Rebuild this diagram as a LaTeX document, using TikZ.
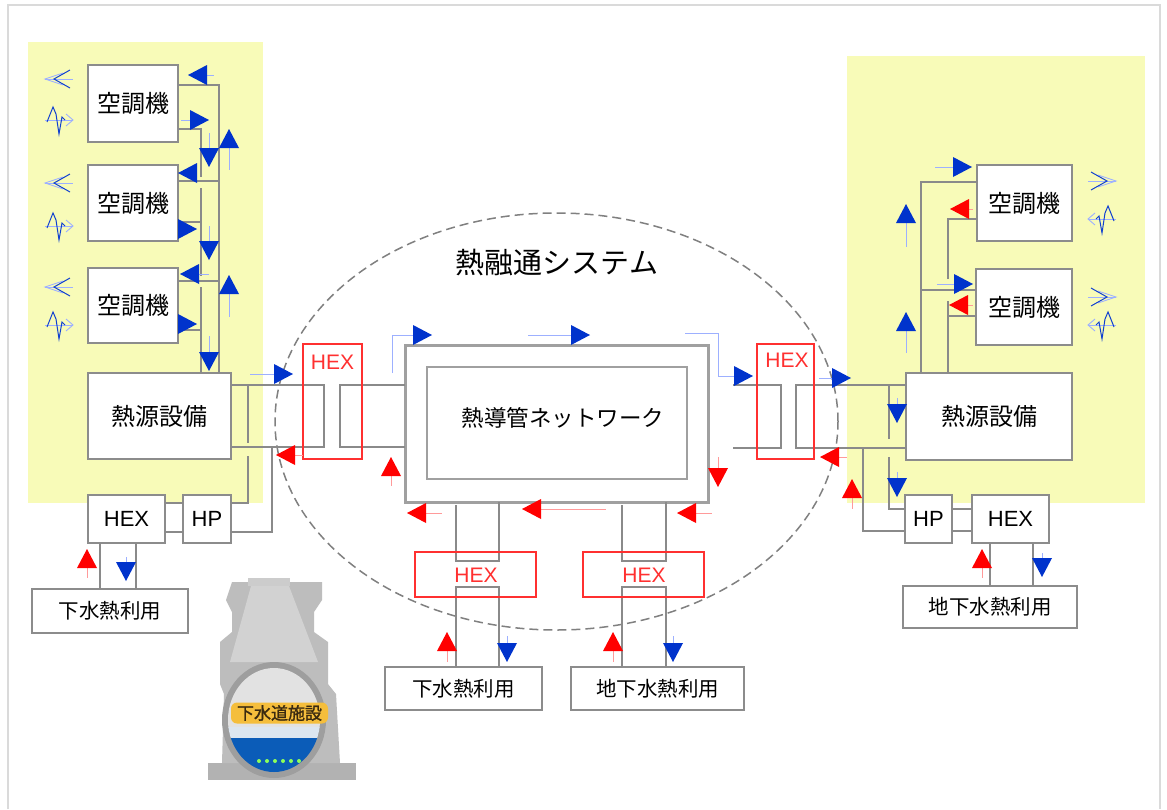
\documentclass[tikz,border=0pt]{standalone}
\usepackage{fontspec}
\setmainfont{Liberation Sans}
\newfontfamily\jp{Noto Sans CJK JP}
\newfontfamily\jpbold[FakeBold=1.6]{Noto Sans CJK JP}
\usetikzlibrary{calc}

\definecolor{zone}{HTML}{F8FBB8}
\definecolor{framegray}{HTML}{DADADA}
\definecolor{boxgray}{HTML}{8C8C8C}
\definecolor{netgray}{HTML}{A0A0A0}
\definecolor{pipegray}{HTML}{8A8A8A}
\definecolor{flowblue}{HTML}{0033CC}
\definecolor{flowred}{HTML}{FF0000}
\definecolor{stemblue}{HTML}{9DB0FF}
\definecolor{stemred}{HTML}{FF9A9A}
\definecolor{hexred}{HTML}{FF3030}
\definecolor{iconblue}{HTML}{1040D0}
\definecolor{mhbase}{HTML}{B2B2B2}
\definecolor{mhbody}{HTML}{BDBDBD}
\definecolor{mhcone}{HTML}{D2D2D2}
\definecolor{mhcap}{HTML}{CCCCCC}
\definecolor{mhring}{HTML}{9E9E9E}
\definecolor{mhinner}{HTML}{E2E2E2}
\definecolor{mhband}{HTML}{DCE6F0}
\definecolor{water}{HTML}{0B5CB8}
\definecolor{tagyellow}{HTML}{F5BE3C}
\definecolor{tagtext}{HTML}{3A2A10}
\definecolor{dotgreen}{HTML}{8CFF5A}

% flow marker: fill colour, stem colour, tip, direction angle, stem length from tip
\newcommand\flowmark[5]{%
  \begin{scope}[shift={#3},rotate=#4]
    \ifdim#5pt>19pt \draw[#2,line width=0.9pt] (-19,0) -- (-#5,0);\fi
    \fill[#1] (0,0) -- (-19,10) -- (-19,-10) -- cycle;
  \end{scope}}

\begin{document}
\begin{tikzpicture}[x=1pt,y=-1pt,
  box/.style={draw=boxgray,line width=1.8pt,fill=white,inner sep=0pt,outer sep=0pt},
  jtext/.style={font=\jp\fontsize{24}{28}\selectfont},
  ltext/.style={font=\fontsize{22}{26}\selectfont},
  usetext/.style={font=\jp\fontsize{20.5}{24}\selectfont},
  hexbox/.style={draw=hexred,line width=1.3pt,inner sep=0pt,outer sep=0pt},
  hexlabel/.style={text=hexred,font=\fontsize{21}{24}\selectfont,inner sep=0pt},
  pipe/.style={draw=pipegray,line width=1.8pt},
  pics/windpic/.style={code={
    \draw[stemblue,line width=0.8pt] (0,0) -- (28,0);
    \draw[stemblue,line width=0.9pt] (18,-6) -- (0,0) -- (18,6);
    \draw[iconblue,line width=1pt] (25,-9) -- (9,0) -- (25,9);
  }},
  pics/gustpic/.style={code={
    \draw[stemblue,line width=0.8pt] (0,0) -- (28,0);
    \draw[stemblue,line width=0.9pt] (21,-6) -- (28,0) -- (21,6);
    \draw[iconblue,line width=1pt] (2,2) -- (8,-13) -- (11,-6) -- (14,14) -- (17,-3) -- (20,0);
  }}
]
\useasboundingbox (0,0) rectangle (1167,809);
\fill[white] (0,0) rectangle (1167,809);
\draw[framegray,line width=1.2pt] (8,809) -- (8,5) -- (1160,5) -- (1160,809);

% building zones
\fill[zone] (28,42) rectangle (263,503);
\fill[zone] (847,56) rectangle (1145,503);

% boundary of the heat interchange system
\draw[gray,line width=1.5pt,dash pattern=on 9pt off 5pt] (556.5,421.5) ellipse [x radius=281.5pt,y radius=208.5pt];
\node[font=\jp\fontsize{29}{33}\selectfont,inner sep=0pt] (title) at (557,262) {熱融通システム};

% ---- left building ----
\node[box,jtext,minimum width=90,minimum height=77] (acL1) at (133,103.5) {空調機};
\node[box,jtext,minimum width=90,minimum height=76] (acL2) at (133,203) {空調機};
\node[box,jtext,minimum width=90,minimum height=75] (acL3) at (133,305.5) {空調機};
\node[box,jtext,minimum width=143,minimum height=86] (hsL) at (159.5,416) {熱源設備};
\node[box,ltext,minimum width=77,minimum height=48] (hexL) at (126.5,519) {HEX};
\node[box,ltext,minimum width=48,minimum height=48] (hpL) at (207,519) {HP};
\node[box,usetext,minimum width=156,minimum height=44] (useL) at (110,611) {下水熱利用};

% ---- network ----
\node[draw=netgray,line width=3pt,fill=white,inner sep=0pt,outer sep=0pt,minimum width=303,minimum height=157] (netO) at (556.5,423.5) {};
\node[draw=netgray,line width=2.6pt,fill=white,inner sep=0pt,outer sep=0pt,minimum width=260,minimum height=112] (netI) at (557,423) {};
\node[font=\jp\fontsize{22.5}{26}\selectfont,inner sep=0pt] (netlabel) at (563,418) {熱導管ネットワーク};
\node[box,usetext,minimum width=157,minimum height=43] (useB1) at (463.5,688.5) {下水熱利用};
\node[box,usetext,minimum width=173,minimum height=43] (useB2) at (657.5,688.5) {地下水熱利用};

% ---- right building ----
\node[box,jtext,minimum width=95,minimum height=76] (acR1) at (1024.5,203) {空調機};
\node[box,jtext,minimum width=96,minimum height=76] (acR2) at (1024,307) {空調機};
\node[box,jtext,minimum width=166,minimum height=87] (hsR) at (989,416.5) {熱源設備};
\node[box,ltext,minimum width=47,minimum height=48] (hpR) at (928.5,519) {HP};
\node[box,ltext,minimum width=77,minimum height=48] (hexR) at (1010.5,519) {HEX};
\node[box,usetext,minimum width=174,minimum height=42] (useR) at (990,607) {地下水熱利用};

% ---- pipes, left ----
\draw[pipe] (acL1.east |- 0,85) -- (219,85) -- (219,0 |- hsL.north);
\draw[pipe] (acL2.east |- 0,181) -- (219,181);
\draw[pipe] (acL3.east |- 0,281) -- (219,281);
\draw[pipe] (acL1.east |- 0,129) -- (201,129) -- (201,177);
\draw[pipe] (201,188) -- (201,276);
\draw[pipe] (acL2.east |- 0,222) -- (201,222);
\draw[pipe] (201,287) -- (201,0 |- hsL.north);
\draw[pipe] (acL3.east |- 0,330) -- (201,330);
\draw[pipe] (hsL.east |- 0,385) -- (324,385) -- (324,447) -- (hsL.east |- 0,447);
\draw[pipe] (248,385) -- (248,443);
\draw[pipe] (248,456) -- (248,503) -- (hpL.east |- 0,503);
\draw[pipe] (hpL.east |- 0,532) -- (272,532) -- (272,447);
\draw[pipe] (hexL.east |- 0,503) -- (hpL.west |- 0,503);
\draw[pipe] (hexL.east |- 0,532) -- (hpL.west |- 0,532);
\draw[pipe] (100,0 |- hexL.south) -- (100,0 |- useL.north);
\draw[pipe] (136,0 |- hexL.south) -- (136,0 |- useL.north);

% ---- pipes, network ----
\draw[pipe] (netO.west |- 0,385) -- (340,385) -- (340,447) -- (netO.west |- 0,447);
\draw[pipe] (456,505) -- (456,561) -- (499,561) -- (499,0 |- netO.south);
\draw[pipe] (456,0 |- useB1.north) -- (456,587) -- (499,587) -- (499,0 |- useB1.north);
\draw[pipe] (622,505) -- (622,561) -- (666,561) -- (666,0 |- netO.south);
\draw[pipe] (622,0 |- useB2.north) -- (622,587) -- (666,587) -- (666,0 |- useB2.north);

% ---- pipes, right ----
\coordinate (openA) at (733,385);
\coordinate (openB) at (733,448);
\draw[pipe] (openA) -- (781,385) -- (781,448) -- (openB);
\draw[pipe] (hsR.west |- 0,385) -- (796,385) -- (796,448) -- (hsR.west |- 0,448);
\draw[pipe] (889,385) -- (889,439);
\draw[pipe] (889,457) -- (889,509) -- (hpR.west |- 0,509);
\draw[pipe] (863,448) -- (863,531) -- (hpR.west |- 0,531);
\draw[pipe] (hpR.east |- 0,509) -- (hexR.west |- 0,509);
\draw[pipe] (hpR.east |- 0,531) -- (hexR.west |- 0,531);
\draw[pipe] (990,0 |- hexR.south) -- (990,0 |- useR.north);
\draw[pipe] (1033,0 |- hexR.south) -- (1033,0 |- useR.north);
\draw[pipe] (921,0 |- hsR.north) -- (921,182) -- (acR1.west |- 0,182);
\draw[pipe] (921,290) -- (acR2.west |- 0,290);
\draw[pipe] (948,0 |- hsR.north) -- (948,301);
\draw[pipe] (948,279) -- (948,219) -- (acR1.west |- 0,219);
\draw[pipe] (948,316) -- (acR2.west |- 0,316);

% ---- heat exchangers on the network ----
\node[hexbox,minimum width=59,minimum height=115] (hexNL) at (332.5,401.5) {};
\node[hexlabel] (hexNLt) at (332.5,362) {HEX};
\node[hexbox,minimum width=57,minimum height=115] (hexNR) at (785.5,401.5) {};
\node[hexlabel] (hexNRt) at (787,360) {HEX};
\node[hexbox,minimum width=121,minimum height=45] (hexB1) at (475.5,574.5) {};
\node[hexlabel] (hexB1t) at (476,575) {HEX};
\node[hexbox,minimum width=121,minimum height=45] (hexB2) at (643.5,574.5) {};
\node[hexlabel] (hexB2t) at (644,575) {HEX};

% ---- air outlet symbols ----
\foreach \y in {79,183,287} \pic at (45,\y) {windpic};
\foreach \y in {120,226,325} \pic at (45,\y) {gustpic};
\foreach \y in {181,297} \pic[xscale=-1] at (1116,\y) {windpic};
\foreach \y in {219,325} \pic[xscale=-1] at (1116,\y) {gustpic};

% ---- flow markers, left ----
\flowmark{flowblue}{stemblue}{(188,75)}{180}{26}
\flowmark{flowblue}{stemblue}{(209,120)}{0}{28}
\flowmark{flowblue}{stemblue}{(209,167)}{270}{34}
\flowmark{flowblue}{stemblue}{(229,129)}{90}{41}
\flowmark{flowblue}{stemblue}{(178,173)}{180}{0}
\flowmark{flowblue}{stemblue}{(197,229)}{0}{0}
\flowmark{flowblue}{stemblue}{(209,260)}{270}{34}
\flowmark{flowblue}{stemblue}{(180,274)}{180}{29}
\flowmark{flowblue}{stemblue}{(229,275)}{90}{42}
\flowmark{flowblue}{stemblue}{(197,324)}{0}{0}
\flowmark{flowblue}{stemblue}{(209,371)}{270}{35}
\flowmark{flowblue}{stemblue}{(293,374)}{0}{43}
\flowmark{flowred}{stemred}{(276,455)}{180}{27}
\flowmark{flowred}{stemred}{(87,549)}{90}{29}
\flowmark{flowblue}{stemblue}{(126,581)}{270}{24}

% ---- flow markers, network ----
\draw[stemblue,line width=0.9pt] (392,373) -- (392,335) -- (413,335);
\flowmark{flowblue}{stemblue}{(432,335)}{0}{0}
\flowmark{flowblue}{stemblue}{(590,335)}{0}{62}
\draw[stemblue,line width=0.9pt] (685,333) -- (718,333) -- (718,376) -- (734,376);
\flowmark{flowblue}{stemblue}{(753,376)}{0}{0}
\flowmark{flowred}{stemred}{(391,457)}{90}{29}
\flowmark{flowred}{stemred}{(718,487)}{270}{30}
\flowmark{flowred}{stemred}{(407,513)}{180}{35}
\flowmark{flowred}{stemred}{(522,509)}{180}{84}
\flowmark{flowred}{stemred}{(677,513)}{180}{35}
\flowmark{flowred}{stemred}{(447,632)}{90}{30}
\flowmark{flowblue}{stemblue}{(507,662)}{270}{26}
\flowmark{flowred}{stemred}{(613,632)}{90}{30}
\flowmark{flowblue}{stemblue}{(673,662)}{270}{26}

% ---- flow markers, right ----
\flowmark{flowblue}{stemblue}{(851,378)}{0}{32}
\flowmark{flowred}{stemred}{(820,457)}{180}{27}
\flowmark{flowblue}{stemblue}{(897,423)}{270}{25}
\flowmark{flowblue}{stemblue}{(897,497)}{270}{25}
\flowmark{flowred}{stemred}{(852,479)}{90}{30}
\flowmark{flowred}{stemred}{(982,549)}{90}{29}
\flowmark{flowblue}{stemblue}{(1042,577)}{270}{24}
\flowmark{flowblue}{stemblue}{(906,204)}{90}{43}
\flowmark{flowblue}{stemblue}{(906,312)}{90}{41}
\flowmark{flowblue}{stemblue}{(972,167)}{0}{37}
\flowmark{flowred}{stemred}{(950,209)}{180}{23}
\flowmark{flowblue}{stemblue}{(973,284)}{0}{36}
\flowmark{flowred}{stemred}{(949,305)}{180}{24}

% ---- sewer manhole ----
\fill[mhbase] (208,763) rectangle (356,780);
\fill[mhbody] (232,582) -- (322,582) -- (322,600) -- (314,612) -- (314,632) -- (328,642) -- (328,684) -- (336,694) -- (340,763) -- (222,763) -- (224,694) -- (220,684) -- (220,642) -- (232,632) -- (232,612) -- (226,600) -- cycle;
\fill[mhcone] (251,586) -- (289,586) -- (318,662) -- (230,662) -- cycle;
\fill[mhcap] (248,578) rectangle (290,586);
\fill[mhring] (274,720) ellipse [x radius=52pt,y radius=58pt];
\begin{scope}
  \clip (274,720) ellipse [x radius=46pt,y radius=52pt];
  \fill[mhinner] (220,660) rectangle (330,728);
  \fill[mhband] (220,727) rectangle (330,738);
  \fill[water] (220,738) rectangle (330,780);
\end{scope}
\node[fill=tagyellow,rounded corners=6pt,minimum width=97,minimum height=21,inner sep=0pt,text=tagtext,font=\jpbold\fontsize{17}{19}\selectfont] (sewer) at (279.5,713) {下水道施設};
\foreach \x in {259,267,275,283,291,299} \fill[dotgreen] (\x,761) circle (2pt);
\end{tikzpicture}
\end{document}
